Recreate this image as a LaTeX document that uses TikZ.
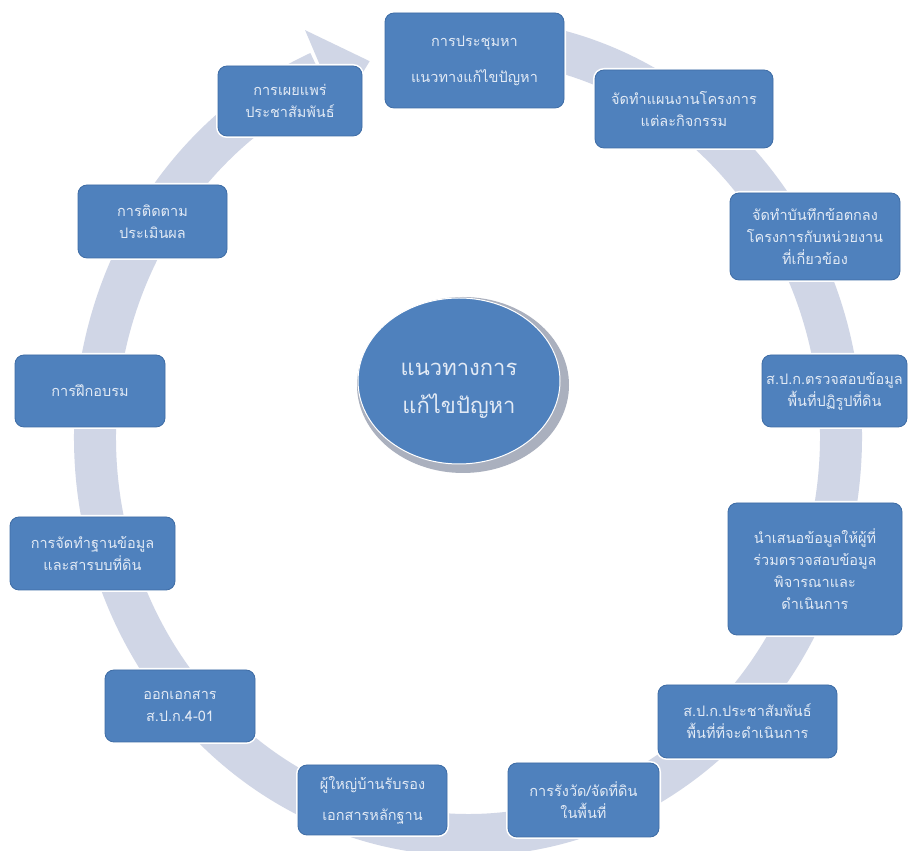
\documentclass[tikz,border=0pt]{standalone}
\usepackage{fontspec}
\newfontfamily\thai[Script=Thai]{Loma}
\usetikzlibrary{shapes.geometric,calc}
\definecolor{ringc}{RGB}{208,214,230}
\definecolor{boxc}{RGB}{79,129,189}
\definecolor{boxb}{RGB}{62,108,165}
\definecolor{txtc}{RGB}{226,234,245}
\definecolor{rimc}{RGB}{170,176,190}
\tikzset{
  stepbox/.style={rectangle, rounded corners=9pt, fill=boxc, draw=boxb, line width=0.8pt,
    preaction={draw=white, line width=4pt},
    text=txtc, align=center, inner sep=2pt,
    font=\thai\fontsize{14.5}{22}\selectfont},
  ringline/.style={draw=ringc, line width=42pt}
}
\begin{document}
\begin{tikzpicture}[x=1pt,y=1pt]
\useasboundingbox (0,0) rectangle (908,851);
\fill[white] (0,0) rectangle (908,851);
% ring
\coordinate (rc) at (468,414);
\draw[ringline] (rc) ++(85:373pt and 398pt) arc[start angle=85, end angle=-246.5, x radius=373pt, y radius=398pt];
\fill[ringc] ($(rc)+(113:417pt and 442pt)$) -- ($(rc)+(105.5:368pt and 390pt)$) -- ($(rc)+(113:329pt and 354pt)$) -- cycle;
% center
\node[ellipse, fill=rimc, minimum width=212, minimum height=176] (cs) at (463,466) {};
\node[ellipse, fill=boxc, draw=white, line width=1pt, minimum width=202, minimum height=166] (c) at (459,470) {};
\node[text=txtc, align=center, font=\thai\fontsize{22}{38}\selectfont] (ct) at (459,460) {แนวทางการ\\แก้ไขปัญหา};
% boxes
\node[stepbox, minimum width=179, minimum height=95] (b1) at (474.5,790.5) {การประชุมหา\\[14pt]แนวทางแก้ไขปัญหา};
\node[stepbox, minimum width=178, minimum height=78] (b2) at (684,742) {จัดทำแผนงานโครงการ\\แต่ละกิจกรรม};
\node[stepbox, minimum width=170, minimum height=87] (b3) at (815,614.5) {จัดทำบันทึกข้อตกลง\\โครงการกับหน่วยงาน\\ที่เกี่ยวข้อง};
\node[stepbox, minimum width=145, minimum height=72] (b4) at (834.5,460) {ส.ป.ก.ตรวจสอบข้อมูล\\พื้นที่ปฏิรูปที่ดิน};
\node[stepbox, minimum width=174, minimum height=132] (b5) at (815,282) {นำเสนอข้อมูลให้ผู้ที่\\ร่วมตรวจสอบข้อมูล\\พิจารณาและ\\ดำเนินการ};
\node[stepbox, minimum width=179, minimum height=73] (b6) at (747.5,129.5) {ส.ป.ก.ประชาสัมพันธ์\\พื้นที่ที่จะดำเนินการ};
\node[stepbox, minimum width=151, minimum height=74] (b7) at (583.5,51) {การรังวัด/จัดที่ดิน\\ในพื้นที่};
\node[stepbox, minimum width=149, minimum height=70] (b8) at (372.5,51) {ผู้ใหญ่บ้านรับรอง\\[9pt]เอกสารหลักฐาน};
\node[stepbox, minimum width=150, minimum height=72] (b9) at (180,145) {ออกเอกสาร\\ส.ป.ก.4-01};
\node[stepbox, minimum width=165, minimum height=73] (b10) at (92.5,297.5) {การจัดทำฐานข้อมูล\\และสารบบที่ดิน};
\node[stepbox, minimum width=150, minimum height=72] (b11) at (90,460) {การฝึกอบรม};
\node[stepbox, minimum width=149, minimum height=73] (b12) at (152.5,629.5) {การติดตาม\\ประเมินผล};
\node[stepbox, minimum width=144, minimum height=70] (b13) at (290,750) {การเผยแพร่\\ประชาสัมพันธ์};
\end{tikzpicture}
\end{document}
